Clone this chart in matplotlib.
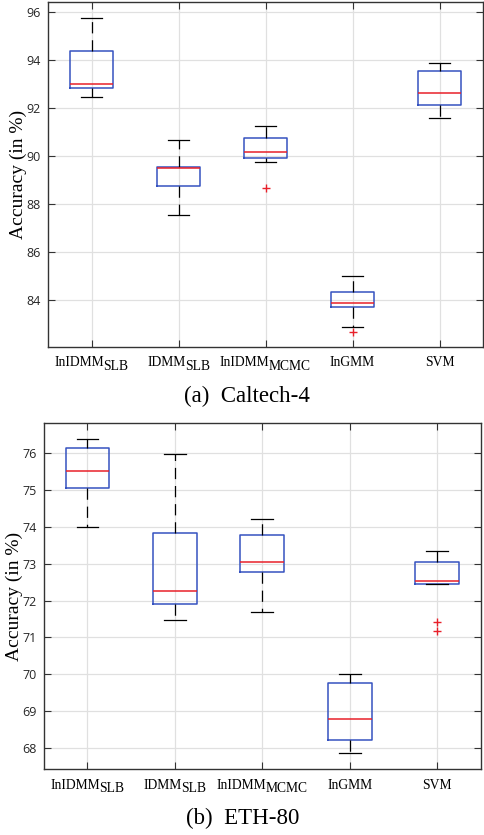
import matplotlib
matplotlib.use("Agg")
import matplotlib.pyplot as plt

# ============================ DADOS ============================
ROT_BASE = ["InIDMM", "IDMM", "InIDMM", "InGMM", "SVM"]
ROT_SUB = ["SLB", "SLB", "MCMC", "", ""]
POSICOES = [1, 2, 3, 4, 5]

# (a) Caltech-4
cal_whislo = [92.49, 87.55, 89.78, 82.88, 91.61]
cal_q1 = [92.84, 88.77, 89.95, 83.72, 92.16]
cal_med = [93.00, 89.50, 90.19, 83.90, 92.66]
cal_q3 = [94.38, 89.56, 90.76, 84.36, 93.55]
cal_whishi = [95.78, 90.68, 91.26, 85.01, 93.90]
cal_fliers = [[], [], [88.67], [82.70], []]
cal_yticks = [84, 86, 88, 90, 92, 94, 96]

# (b) ETH-80
eth_whislo = [73.99, 71.47, 71.69, 67.86, 72.44]
eth_q1 = [75.06, 71.90, 72.77, 68.22, 72.44]
eth_med = [75.51, 72.26, 73.04, 68.77, 72.53]
eth_q3 = [76.15, 73.84, 73.78, 69.77, 73.04]
eth_whishi = [76.40, 75.98, 74.21, 70.01, 73.35]
eth_fliers = [[], [], [], [], [71.43, 71.17]]
eth_yticks = [68, 69, 70, 71, 72, 73, 74, 75, 76]

# ============================ ESTILO ============================
W, H = 484, 835
AZUL = "#3552c0"
VERMELHO = "#e8202a"
SERIF = "Liberation Serif"
TAM_ROT = 9.8


def montar_stats(whislo, q1, med, q3, whishi, fliers):
    stats = []
    for i in range(len(med)):
        stats.append({"whislo": whislo[i], "q1": q1[i], "med": med[i],
                      "q3": q3[i], "whishi": whishi[i],
                      "fliers": fliers[i]})
    return stats


def desenhar(ax, stats, ylim, yticks, xlabel_y):
    ax.bxp(stats, positions=POSICOES, widths=0.5, showfliers=True,
           boxprops=dict(color=AZUL, linewidth=1.1),
           medianprops=dict(color=VERMELHO, linewidth=1.1),
           whiskerprops=dict(color="black", linewidth=0.9, linestyle=(0, (9, 5.5))),
           capprops=dict(color="black", linewidth=0.9),
           capwidths=0.25,
           flierprops=dict(marker="+", markeredgecolor=VERMELHO,
                           markersize=6, linestyle="none"))
    ax.set_xlim(0.5, 5.5)
    ax.set_ylim(*ylim)
    ax.set_yticks(yticks)
    ax.set_xticks(POSICOES)
    ax.set_xticklabels([])
    ax.grid(True, color="#e0e0e0", linewidth=0.9)
    ax.set_axisbelow(True)
    ax.tick_params(direction="in", top=True, right=True, length=5,
                   color="#333333", labelcolor="#262626")
    ax.tick_params(axis="y", pad=5)
    for lbl in ax.get_yticklabels():
        lbl.set_fontfamily("Open Sans")
        lbl.set_fontsize(9)
    for s in ax.spines.values():
        s.set_color("#333333")
        s.set_linewidth(1.0)
    ax.set_ylabel("Accuracy (in %)", fontfamily=SERIF, fontsize=14, color="black")
    ax.yaxis.label.set_verticalalignment("center")
    ax.yaxis.set_label_coords(xlabel_y, 0.5)


fig = plt.figure(figsize=(W / 100, H / 100), dpi=100)

ax1 = fig.add_axes([0.0992, 0.5844, 0.8988, 0.4138])
desenhar(ax1, montar_stats(cal_whislo, cal_q1, cal_med, cal_q3, cal_whishi, cal_fliers),
         (82.06, 96.45), cal_yticks, -0.069)

ax2 = fig.add_axes([0.0903, 0.0794, 0.9035, 0.4137])
desenhar(ax2, montar_stats(eth_whislo, eth_q1, eth_med, eth_q3, eth_whishi, eth_fliers),
         (67.43, 76.82), eth_yticks, -0.068)

# rótulos do eixo x com subscrito do mesmo tamanho (estilo MATLAB)
renderer = fig.canvas.get_renderer()


def rotulos_x(ax, base_px):
    for pos, base, sub in zip(POSICOES, ROT_BASE, ROT_SUB):
        x0 = ax.transData.transform((pos, 0))[0]
        t1 = fig.text(x0 / W, 1 - base_px / H, base, ha="left", va="baseline",
                      fontfamily=SERIF, fontsize=TAM_ROT)
        bb1 = t1.get_window_extent(renderer=renderer)
        partes = [t1]
        fim = bb1.x1
        if sub:
            t2 = fig.text((bb1.x1 - 0.5) / W, 1 - (base_px + 3.5) / H, sub,
                          ha="left", va="baseline", fontfamily=SERIF,
                          fontsize=TAM_ROT)
            fim = t2.get_window_extent(renderer=renderer).x1
            partes.append(t2)
        desloc = (fim - bb1.x0) / 2
        for t in partes:
            px, py = t.get_position()
            t.set_position((px - desloc / W, py))


rotulos_x(ax1, 366)
rotulos_x(ax2, 789)

fig.text(247 / W, 1 - 396 / H, "(a)  Caltech-4", ha="center", va="center",
         fontfamily=SERIF, fontsize=16.5)
fig.text(243 / W, 1 - 818 / H, "(b)  ETH-80", ha="center", va="center",
         fontfamily=SERIF, fontsize=16.5)

fig.savefig("out.png", dpi=100)
